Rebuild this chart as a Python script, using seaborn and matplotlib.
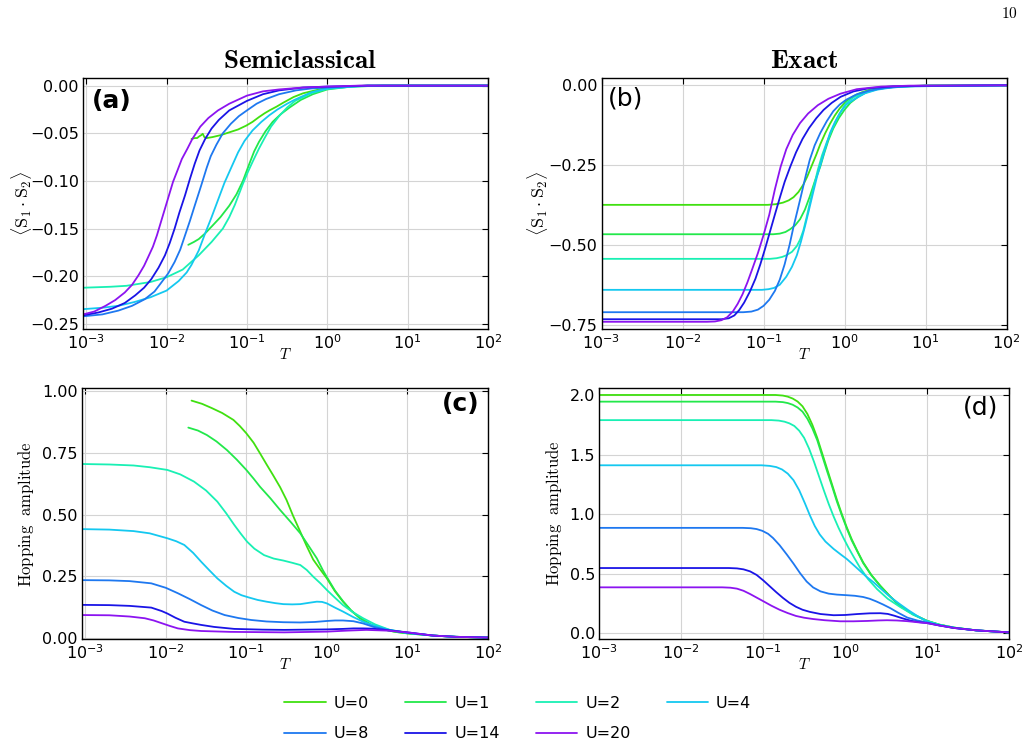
import numpy as np
import pandas as pd
import matplotlib
matplotlib.use("Agg")
import matplotlib.pyplot as plt
import matplotlib.ticker as mticker
import seaborn as sns

U_VALUES = [0, 1, 2, 4, 8, 14, 20]
COLORS = ["#40e010", "#22e84a", "#19f0b4", "#14c8f0", "#1e78f0", "#1a14e6", "#8c14f0"]

# values, stored as log10(T) -> value per U
# (a) semiclassical <S1.S2>
a_logT = {
    0: [-1.69, -1.65, -1.62, -1.59, -1.57, -1.55, -1.53, -1.50, -1.43, -1.33, -1.22, -1.11, -1.01, -0.93,
        -0.85, -0.78, -0.72, -0.63, -0.55, -0.42, -0.3, -0.15, 0.0, 0.5, 2.0],
    1: [-1.73, -1.66, -1.60, -1.52, -1.43, -1.33, -1.22, -1.13, -1.05, -0.97, -0.91, -0.85, -0.77, -0.68,
        -0.58, -0.47, -0.33, -0.18, 0.0, 0.3, 0.7, 2.0],
    2: [-3.04, -2.7, -2.5, -2.2, -2.0, -1.8, -1.6, -1.44, -1.3, -1.22, -1.15, -1.05, -0.99, -0.93, -0.85,
        -0.78, -0.7, -0.6, -0.5, -0.4, -0.2, 0.0, 0.3, 0.7, 2.0],
    4: [-3.04, -2.8, -2.6, -2.4, -2.2, -2.0, -1.85, -1.75, -1.69, -1.60, -1.52, -1.44, -1.36, -1.28, -1.19,
        -1.11, -1.03, -0.93, -0.82, -0.72, -0.62, -0.5, -0.41, -0.2, 0.0, 0.5, 2.0],
    8: [-3.04, -2.8, -2.6, -2.43, -2.27, -2.15, -2.06, -1.98, -1.90, -1.83, -1.77, -1.71, -1.65, -1.57, -1.50,
        -1.45, -1.38, -1.30, -1.20, -1.10, -1.0, -0.88, -0.76, -0.6, -0.39, -0.2, 0.0, 0.5, 2.0],
    14: [-3.04, -2.85, -2.68, -2.52, -2.39, -2.28, -2.19, -2.10, -2.02, -1.96, -1.90, -1.84, -1.77, -1.71,
         -1.65, -1.59, -1.52, -1.44, -1.35, -1.22, -1.0, -0.8, -0.6, -0.3, 0.0, 0.5, 2.0],
    20: [-3.04, -2.9, -2.76, -2.64, -2.52, -2.43, -2.35, -2.28, -2.23, -2.17, -2.12, -2.07, -2.02, -1.97,
         -1.92, -1.86, -1.81, -1.74, -1.68, -1.58, -1.48, -1.36, -1.22, -1.0, -0.8, -0.6, -0.3, 0.0, 0.4, 2.0],
}
a_val = {
    0: [-0.056, -0.055, -0.055, -0.053, -0.052, -0.0505, -0.054, -0.055, -0.054, -0.052, -0.049, -0.046, -0.042,
        -0.038, -0.033, -0.029, -0.026, -0.022, -0.018, -0.012, -0.008, -0.005, -0.002, 0.0, 0.0],
    1: [-0.167, -0.164, -0.161, -0.155, -0.147, -0.138, -0.126, -0.114, -0.100, -0.082, -0.069, -0.059, -0.048,
        -0.038, -0.030, -0.023, -0.015, -0.009, -0.004, -0.001, 0.0, 0.0],
    2: [-0.212, -0.211, -0.210, -0.206, -0.201, -0.193, -0.178, -0.164, -0.150, -0.138, -0.125, -0.103, -0.091,
        -0.080, -0.066, -0.055, -0.043, -0.032, -0.023, -0.016, -0.008, -0.0035, -0.001, 0.0, 0.0],
    4: [-0.2345, -0.233, -0.231, -0.227, -0.222, -0.215, -0.205, -0.196, -0.188, -0.173, -0.155, -0.138, -0.120,
        -0.102, -0.085, -0.070, -0.058, -0.047, -0.038, -0.031, -0.025, -0.019, -0.015, -0.007, -0.003, 0.0, 0.0],
    8: [-0.242, -0.240, -0.236, -0.231, -0.224, -0.216, -0.206, -0.197, -0.185, -0.172, -0.157, -0.142, -0.126,
        -0.105, -0.086, -0.074, -0.062, -0.050, -0.040, -0.032, -0.026, -0.019, -0.014, -0.009, -0.005, -0.003,
        -0.002, 0.0, 0.0],
    14: [-0.241, -0.238, -0.234, -0.228, -0.220, -0.212, -0.203, -0.191, -0.178, -0.165, -0.150, -0.133, -0.115,
         -0.098, -0.082, -0.068, -0.056, -0.045, -0.036, -0.026, -0.016, -0.009, -0.005, -0.002, -0.001, 0.0, 0.0],
    20: [-0.240, -0.237, -0.231, -0.225, -0.217, -0.209, -0.199, -0.189, -0.180, -0.169, -0.157, -0.143, -0.129,
         -0.115, -0.101, -0.088, -0.077, -0.066, -0.056, -0.043, -0.034, -0.026, -0.019, -0.0105, -0.006, -0.004,
         -0.002, -0.001, 0.0, 0.0],
}

# (b) exact <S1.S2>
b_logT = {
    0: [-3, -0.95, -0.85, -0.76, -0.69, -0.63, -0.57, -0.51, -0.46, -0.41, -0.35, -0.30, -0.24, -0.18, -0.12,
        -0.06, 0.02, 0.11, 0.21, 0.31, 0.45, 0.6, 0.8, 1.0, 2.0],
    1: [-3, -0.88, -0.80, -0.73, -0.67, -0.61, -0.55, -0.49, -0.43, -0.37, -0.30, -0.25, -0.20, -0.14, -0.07,
        0.0, 0.07, 0.17, 0.27, 0.4, 0.6, 1.0, 2.0],
    2: [-3, -0.92, -0.84, -0.77, -0.72, -0.65, -0.59, -0.55, -0.51, -0.47, -0.43, -0.38, -0.33, -0.28, -0.22,
        -0.16, -0.10, -0.04, 0.02, 0.12, 0.23, 0.4, 0.6, 1.0, 2.0],
    4: [-3, -1.02, -0.94, -0.87, -0.80, -0.72, -0.65, -0.59, -0.54, -0.49, -0.44, -0.39, -0.34, -0.28, -0.23,
        -0.18, -0.12, -0.06, 0.02, 0.11, 0.25, 0.40, 0.6, 0.8, 2.0],
    8: [-3, -1.25, -1.15, -1.07, -1.00, -0.93, -0.86, -0.80, -0.74, -0.68, -0.63, -0.58, -0.53, -0.48, -0.43,
        -0.37, -0.30, -0.22, -0.14, -0.06, 0.02, 0.15, 0.31, 0.5, 0.81, 2.0],
    14: [-3, -1.52, -1.43, -1.36, -1.30, -1.24, -1.17, -1.10, -1.04, -0.98, -0.92, -0.86, -0.80, -0.74, -0.67,
         -0.60, -0.52, -0.44, -0.35, -0.26, -0.16, -0.05, 0.11, 0.3, 0.6, 1.0, 2.0],
    20: [-3, -1.70, -1.60, -1.52, -1.45, -1.38, -1.32, -1.26, -1.20, -1.14, -1.07, -1.00, -0.93, -0.86, -0.79,
         -0.72, -0.64, -0.55, -0.45, -0.33, -0.20, -0.05, 0.15, 0.45, 0.8, 2.0],
}
b_val = {
    0: [-0.374, -0.374, -0.372, -0.367, -0.360, -0.350, -0.334, -0.311, -0.285, -0.254, -0.217, -0.184, -0.150,
        -0.120, -0.094, -0.072, -0.050, -0.034, -0.022, -0.0136, -0.007, -0.004, -0.002, -0.001, 0.0],
    1: [-0.466, -0.466, -0.464, -0.459, -0.450, -0.438, -0.419, -0.389, -0.348, -0.302, -0.254, -0.211, -0.172,
        -0.135, -0.102, -0.076, -0.055, -0.035, -0.022, -0.012, -0.005, -0.001, 0.0],
    2: [-0.543, -0.543, -0.541, -0.537, -0.532, -0.521, -0.503, -0.483, -0.455, -0.414, -0.369, -0.316, -0.264,
        -0.220, -0.178, -0.141, -0.108, -0.079, -0.055, -0.036, -0.024, -0.011, -0.005, -0.001, 0.0],
    4: [-0.640, -0.640, -0.638, -0.634, -0.624, -0.599, -0.568, -0.532, -0.490, -0.442, -0.390, -0.337, -0.285,
        -0.233, -0.190, -0.149, -0.115, -0.087, -0.060, -0.045, -0.025, -0.0136, -0.006, -0.003, 0.0],
    8: [-0.710, -0.710, -0.708, -0.702, -0.690, -0.671, -0.643, -0.608, -0.560, -0.500, -0.442, -0.390, -0.337,
        -0.283, -0.233, -0.188, -0.149, -0.112, -0.081, -0.060, -0.045, -0.028, -0.016, -0.008, -0.003, 0.0],
    14: [-0.732, -0.732, -0.729, -0.720, -0.703, -0.680, -0.646, -0.605, -0.560, -0.510, -0.457, -0.404, -0.352,
         -0.302, -0.254, -0.210, -0.168, -0.134, -0.103, -0.077, -0.055, -0.036, -0.019, -0.009, -0.003, -0.001, 0.0],
    20: [-0.740, -0.740, -0.739, -0.735, -0.726, -0.708, -0.684, -0.654, -0.617, -0.575, -0.525, -0.468, -0.405,
         -0.325, -0.255, -0.200, -0.155, -0.118, -0.088, -0.062, -0.042, -0.026, -0.012, -0.004, -0.001, 0.0],
}

# (c) semiclassical hopping amplitude
c_logT = {
    0: [-1.68, -1.55, -1.43, -1.30, -1.16, -1.08, -1.0, -0.91, -0.83, -0.75, -0.67, -0.58, -0.50, -0.42, -0.33,
        -0.25, -0.17, -0.08, 0.0, 0.10, 0.20, 0.30, 0.41, 0.55, 0.70, 0.85, 1.0, 1.32, 1.6, 2.0],
    1: [-1.72, -1.60, -1.49, -1.37, -1.24, -1.12, -1.0, -0.91, -0.83, -0.70, -0.58, -0.45, -0.33, -0.23, -0.125,
        -0.05, 0.0, 0.10, 0.20, 0.30, 0.41, 0.55, 0.70, 0.85, 1.0, 1.32, 1.6, 2.0],
    2: [-3.04, -2.7, -2.4, -2.2, -1.98, -1.82, -1.65, -1.50, -1.36, -1.25, -1.15, -1.07, -0.99, -0.90, -0.78,
        -0.66, -0.54, -0.43, -0.33, -0.25, -0.17, -0.08, 0.0, 0.1, 0.2, 0.32, 0.45, 0.6, 0.78, 1.0, 1.32, 1.6, 2.0],
    4: [-3.04, -2.7, -2.4, -2.2, -1.98, -1.87, -1.77, -1.66, -1.56, -1.46, -1.36, -1.25, -1.15, -1.06, -0.97,
        -0.86, -0.75, -0.64, -0.54, -0.43, -0.33, -0.23, -0.125, -0.06, 0.0, 0.1, 0.2, 0.32, 0.45, 0.6, 0.78,
        1.0, 1.32, 1.6, 2.0],
    8: [-3.04, -2.7, -2.45, -2.18, -2.0, -1.85, -1.70, -1.56, -1.42, -1.27, -1.1, -0.94, -0.75, -0.54, -0.33,
        -0.15, 0.0, 0.1, 0.2, 0.33, 0.45, 0.58, 0.75, 1.0, 1.32, 1.6, 2.0],
    14: [-3.04, -2.7, -2.45, -2.18, -2.05, -1.98, -1.88, -1.77, -1.66, -1.56, -1.4, -1.15, -0.8, -0.53, 0.0,
         0.2, 0.33, 0.45, 0.57, 0.75, 1.0, 1.32, 1.6, 2.0],
    20: [-3.04, -2.7, -2.45, -2.26, -2.15, -2.05, -1.95, -1.85, -1.70, -1.56, -1.2, -0.53, 0.0, 0.25, 0.49,
         0.75, 1.0, 1.32, 1.6, 2.0],
}
c_val = {
    0: [0.960, 0.947, 0.930, 0.910, 0.882, 0.857, 0.828, 0.790, 0.747, 0.703, 0.660, 0.610, 0.558, 0.495, 0.430,
        0.372, 0.318, 0.277, 0.242, 0.190, 0.148, 0.112, 0.081, 0.055, 0.036, 0.026, 0.020, 0.011, 0.006, 0.003],
    1: [0.851, 0.839, 0.821, 0.795, 0.760, 0.722, 0.680, 0.645, 0.612, 0.565, 0.518, 0.470, 0.424, 0.375, 0.323,
        0.275, 0.247, 0.193, 0.150, 0.113, 0.082, 0.055, 0.036, 0.026, 0.020, 0.011, 0.006, 0.003],
    2: [0.704, 0.702, 0.698, 0.691, 0.680, 0.662, 0.633, 0.597, 0.552, 0.505, 0.458, 0.423, 0.390, 0.362, 0.336,
        0.322, 0.314, 0.305, 0.296, 0.276, 0.249, 0.222, 0.195, 0.164, 0.134, 0.106, 0.081, 0.056, 0.034, 0.022,
        0.011, 0.006, 0.003],
    4: [0.441, 0.439, 0.433, 0.424, 0.404, 0.392, 0.377, 0.345, 0.309, 0.275, 0.242, 0.212, 0.188, 0.174, 0.165,
        0.155, 0.148, 0.142, 0.138, 0.137, 0.138, 0.143, 0.148, 0.147, 0.141, 0.124, 0.108, 0.087, 0.067, 0.050,
        0.034, 0.022, 0.011, 0.006, 0.003],
    8: [0.235, 0.234, 0.231, 0.222, 0.204, 0.182, 0.158, 0.134, 0.112, 0.094, 0.082, 0.074, 0.068, 0.065, 0.064,
        0.066, 0.070, 0.072, 0.072, 0.069, 0.060, 0.046, 0.034, 0.022, 0.011, 0.006, 0.003],
    14: [0.135, 0.134, 0.131, 0.124, 0.110, 0.100, 0.083, 0.067, 0.060, 0.054, 0.046, 0.038, 0.035, 0.034, 0.036,
         0.038, 0.040, 0.040, 0.039, 0.033, 0.024, 0.011, 0.006, 0.003],
    20: [0.094, 0.093, 0.088, 0.081, 0.072, 0.061, 0.050, 0.040, 0.033, 0.0295, 0.026, 0.024, 0.027, 0.031, 0.034,
         0.031, 0.024, 0.011, 0.006, 0.003],
}

# (d) exact hopping amplitude
d_logT = {
    0: [-3, -0.85, -0.76, -0.70, -0.64, -0.58, -0.52, -0.46, -0.40, -0.34, -0.28, -0.22, -0.16, -0.10, -0.04,
        0.02, 0.08, 0.15, 0.22, 0.32, 0.43, 0.55, 0.67, 0.83, 1.0, 1.15, 1.33, 1.6, 2.0],
    1: [-3, -0.85, -0.76, -0.70, -0.64, -0.58, -0.52, -0.46, -0.40, -0.34, -0.28, -0.22, -0.16, -0.10, -0.04,
        0.02, 0.08, 0.15, 0.22, 0.32, 0.43, 0.55, 0.67, 0.83, 1.0, 1.15, 1.33, 1.6, 2.0],
    2: [-3, -0.90, -0.81, -0.74, -0.68, -0.62, -0.56, -0.50, -0.44, -0.38, -0.32, -0.26, -0.20, -0.14, -0.08,
        -0.02, 0.04, 0.11, 0.18, 0.28, 0.39, 0.52, 0.67, 0.83, 1.0, 1.15, 1.33, 1.6, 2.0],
    4: [-3, -1.02, -0.92, -0.84, -0.77, -0.70, -0.63, -0.56, -0.49, -0.43, -0.37, -0.31, -0.24, -0.14, -0.05,
        0.02, 0.10, 0.18, 0.26, 0.35, 0.43, 0.51, 0.59, 0.67, 0.77, 0.88, 1.0, 1.15, 1.33, 1.6, 2.0],
    8: [-3, -1.25, -1.15, -1.08, -1.01, -0.94, -0.88, -0.80, -0.71, -0.63, -0.55, -0.47, -0.39, -0.30, -0.20,
        -0.10, 0.02, 0.12, 0.22, 0.30, 0.38, 0.46, 0.55, 0.65, 0.76, 0.88, 1.0, 1.15, 1.33, 1.6, 2.0],
    14: [-3, -1.42, -1.32, -1.24, -1.16, -1.08, -1.00, -0.92, -0.84, -0.76, -0.68, -0.60, -0.52, -0.43, -0.30,
         -0.14, 0.0, 0.15, 0.30, 0.43, 0.52, 0.60, 0.70, 0.80, 0.9, 1.0, 1.15, 1.33, 1.6, 2.0],
    20: [-3, -1.50, -1.40, -1.32, -1.24, -1.16, -1.08, -1.00, -0.90, -0.80, -0.70, -0.60, -0.50, -0.39, -0.25,
         -0.06, 0.1, 0.27, 0.40, 0.51, 0.63, 0.76, 0.9, 1.0, 1.15, 1.33, 1.6, 2.0],
}
d_val = {
    0: [2.0, 2.0, 1.995, 1.986, 1.97, 1.945, 1.905, 1.84, 1.75, 1.64, 1.51, 1.38, 1.25, 1.12, 1.00, 0.89, 0.79,
        0.69, 0.596, 0.49, 0.399, 0.31, 0.230, 0.16, 0.105, 0.073, 0.048, 0.025, 0.008],
    1: [1.944, 1.944, 1.94, 1.932, 1.918, 1.895, 1.86, 1.80, 1.72, 1.62, 1.49, 1.36, 1.235, 1.105, 0.99, 0.88,
        0.78, 0.685, 0.59, 0.487, 0.396, 0.308, 0.228, 0.159, 0.105, 0.073, 0.048, 0.025, 0.008],
    2: [1.789, 1.789, 1.785, 1.776, 1.762, 1.74, 1.70, 1.64, 1.55, 1.44, 1.32, 1.20, 1.085, 0.98, 0.885, 0.80,
        0.72, 0.635, 0.553, 0.455, 0.371, 0.29, 0.222, 0.156, 0.103, 0.072, 0.048, 0.025, 0.008],
    4: [1.41, 1.41, 1.405, 1.395, 1.375, 1.34, 1.285, 1.20, 1.09, 0.99, 0.90, 0.83, 0.77, 0.708, 0.660, 0.624,
        0.575, 0.525, 0.475, 0.427, 0.378, 0.329, 0.285, 0.244, 0.195, 0.146, 0.100, 0.070, 0.047, 0.025, 0.008],
    8: [0.885, 0.885, 0.882, 0.875, 0.86, 0.835, 0.80, 0.74, 0.66, 0.585, 0.505, 0.435, 0.385, 0.352, 0.333,
        0.325, 0.320, 0.315, 0.305, 0.290, 0.268, 0.243, 0.212, 0.172, 0.132, 0.108, 0.091, 0.067, 0.045, 0.025,
        0.008],
    14: [0.548, 0.548, 0.545, 0.537, 0.52, 0.49, 0.445, 0.395, 0.345, 0.298, 0.256, 0.223, 0.198, 0.180, 0.162,
         0.152, 0.154, 0.162, 0.168, 0.169, 0.163, 0.148, 0.126, 0.106, 0.094, 0.086, 0.066, 0.045, 0.025, 0.008],
    20: [0.386, 0.386, 0.383, 0.375, 0.357, 0.330, 0.300, 0.270, 0.232, 0.198, 0.170, 0.146, 0.131, 0.120, 0.110,
         0.101, 0.101, 0.104, 0.108, 0.110, 0.108, 0.102, 0.092, 0.086, 0.066, 0.045, 0.025, 0.008],
}


def to_frame(logT, val):
    rows = []
    for u in U_VALUES:
        for lt, v in zip(logT[u], val[u]):
            rows.append({"T": 10.0 ** lt, "val": v, "U": u})
    return pd.DataFrame(rows)


sns.set_theme(style="white")
plt.rcParams["font.family"] = ["DejaVu Sans"]
plt.rcParams["xtick.direction"] = "in"
plt.rcParams["ytick.direction"] = "in"
for key in ("text.color", "axes.labelcolor", "xtick.color", "ytick.color"):
    plt.rcParams[key] = "black"

W, H = 1027, 747
fig = plt.figure(figsize=(W / 100, H / 100), dpi=100)


def px_axes(x0, y0, x1, y1):
    return fig.add_axes([x0 / W, 1 - y1 / H, (x1 - x0) / W, (y1 - y0) / H])


ax_a = px_axes(83, 78, 488, 329)
ax_b = px_axes(601.5, 78, 1006.7, 329.3)
ax_c = px_axes(82, 388.3, 488, 639.3)
ax_d = px_axes(599.3, 387.7, 1009, 639.3)

palette = dict(zip(U_VALUES, COLORS))
panels = [
    (ax_a, a_logT, a_val, (10 ** -3.04, 100), (-0.2553, 0.008), 0.05, "(a)", "bold", (0.022, 0.908), "left"),
    (ax_b, b_logT, b_val, (1e-3, 100), (-0.7635, 0.023), 0.25, "(b)", "normal", (0.016, 0.92), "left"),
    (ax_c, c_logT, c_val, (10 ** -3.04, 100), (-0.004, 1.0097), 0.25, "(c)", "bold", (0.98, 0.936), "right"),
    (ax_d, d_logT, d_val, (1e-3, 100), (-0.05, 2.061), 0.5, "(d)", "normal", (0.973, 0.923), "right"),
]

for ax, lt, vals, xlim, ylim, ystep, tag, weight, tpos, tha in panels:
    df = to_frame(lt, vals)
    sns.lineplot(data=df, x="T", y="val", hue="U", hue_order=U_VALUES, palette=palette,
                 estimator=None, legend=False, linewidth=1.3, ax=ax)
    ax.set_xscale("log")
    ax.set_xlim(*xlim)
    ax.set_ylim(*ylim)
    ax.xaxis.set_major_locator(mticker.LogLocator(base=10, numticks=10))
    ax.xaxis.set_minor_locator(mticker.NullLocator())
    ax.yaxis.set_major_locator(mticker.MultipleLocator(ystep))
    ax.grid(True, color="#d4d4d4", linewidth=0.8)
    ax.tick_params(which="both", top=True, right=True, length=4, width=0.8,
                   color="black", labelsize=11.5, pad=3)
    for sp in ax.spines.values():
        sp.set_color("black")
        sp.set_linewidth(1.0)
    ax.set_xlabel(r"$T$", fontsize=11, math_fontfamily="cm")
    ax.xaxis.set_label_coords(0.5, -0.07)
    ax.text(tpos[0], tpos[1], tag, transform=ax.transAxes, fontsize=18, fontweight=weight,
            ha=tha, va="center")

for ax in (ax_a, ax_b):
    ax.set_ylabel(r"$\langle \mathrm{S}_1 \cdot \mathrm{S}_2 \rangle$", fontsize=13, math_fontfamily="cm")
for ax in (ax_c, ax_d):
    ax.set_ylabel(r"$\mathrm{Hopping\ \ amplitude}$", fontsize=12, math_fontfamily="cm")
ax_a.yaxis.set_label_coords(-0.122, 0.5)
ax_b.yaxis.set_label_coords(-0.128, 0.5)
ax_c.yaxis.set_label_coords(-0.113, 0.5)
ax_d.yaxis.set_label_coords(-0.085, 0.5)

fig.text(299.5 / W, 1 - 68 / H, r"$\mathbf{Semiclassical}$", fontsize=19.5, math_fontfamily="cm",
         ha="center", va="baseline")
fig.text(804.5 / W, 1 - 68 / H, r"$\mathbf{Exact}$", fontsize=19.5, math_fontfamily="cm",
         ha="center", va="baseline")

fig.text(1018 / W, 1 - 14 / H, r"$10$", ha="right", va="center", fontsize=11, math_fontfamily="cm")

# legend is filled column-wise, so reorder to read U=0,1,2,4 / U=8,14,20 row-wise
handles = ax_d.get_lines()[:len(U_VALUES)]
labels = [f"U={u}" for u in U_VALUES]
order = [0, 4, 1, 5, 2, 6, 3]
fig.legend([handles[i] for i in order], [labels[i] for i in order],
           loc="upper left", bbox_to_anchor=(284 / W, 1 - 696 / H), ncol=4, frameon=False,
           fontsize=11.5, handlelength=2.6, handletextpad=0.5, columnspacing=2.25,
           labelspacing=0.95, borderpad=0, borderaxespad=0)

fig.savefig("out.png", dpi=100)
